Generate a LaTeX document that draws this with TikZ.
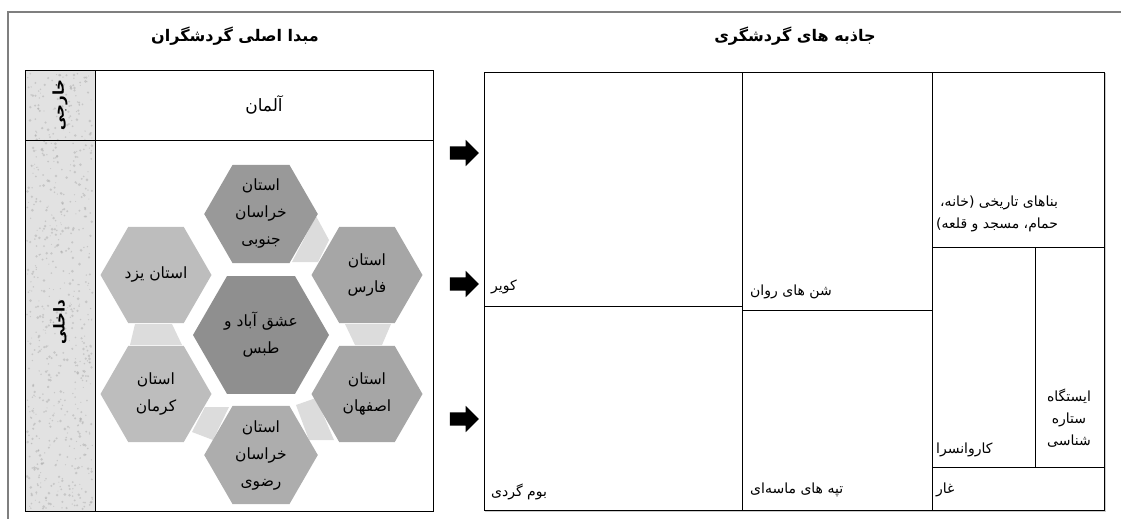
\documentclass[tikz,border=0pt]{standalone}
\usepackage{fontspec}
\usepackage{xcolor}
\usetikzlibrary{shapes,arrows,positioning}
\TeXXeTstate=1
\newfontfamily\arabicfont[Script=Arabic]{DejaVu Sans}
\newcommand{\fa}[1]{\beginR #1\endR}
\definecolor{hexcentre}{HTML}{8F8F8F}
\definecolor{hextop}{HTML}{999999}
\definecolor{hexmid}{HTML}{A6A6A6}
\definecolor{hexlow}{HTML}{ADADAD}
\definecolor{hexlight}{HTML}{BDBDBD}
\definecolor{linkgray}{HTML}{DCDCDC}
\definecolor{framegray}{HTML}{7F7F7F}
\definecolor{stonegray}{HTML}{E2E2E2}

\begin{document}
\begin{tikzpicture}[x=1pt,y=-1pt,
    hex/.style={regular polygon, regular polygon sides=6, inner sep=0pt,
        minimum size=111pt, align=center,
        font=\arabicfont\fontsize{15.5}{27}\selectfont},
    cell/.style={anchor=west, inner sep=0pt, font=\arabicfont\fontsize{14}{22}\selectfont},
    title/.style={font=\arabicfont\bfseries\fontsize{16}{18}\selectfont},
    side/.style={rotate=90, font=\arabicfont\bfseries\fontsize{15}{16}\selectfont},
    blockarrow/.style={single arrow, fill=black, inner sep=6.5pt,
        minimum height=29pt, single arrow head extend=6.5pt}]
    \useasboundingbox (0,0) rectangle (1121,519);

    % Frame
    \draw[framegray, line width=1.5pt] (8,519) -- (8,12) -- (1121,12);

    % Titles
    \node[title] (origin) at (235,36) {\fa{مبدا اصلی گردشگران}};
    \node[title] (attract) at (795,36) {\fa{جاذبه های گردشگری}};

    % Left table, stone column
    \fill[stonegray] (25,70) rectangle (95,511);
    \pgfmathsetseed{42}
    \foreach \k in {1,...,700} {
        \fill[gray!70, opacity=0.45] (27+66*rnd,72+437*rnd) circle (0.5+1.0*rnd);
    }
    \draw[line width=1pt] (25,70) rectangle (433,511);
    \draw[line width=1pt] (95,70) -- (95,511);
    \draw[line width=1pt] (25,140) -- (433,140);
    \node[side] (foreign) at (60,105) {\fa{خارجی}};
    \node[side] (domestic) at (60,322) {\fa{داخلی}};
    \node[font=\arabicfont\fontsize{17}{20}\selectfont] (germany) at (264,105) {\fa{آلمان}};

    % Links between outer hexagons
    \fill[linkgray] (316,216) -- (329,240) -- (318,262) -- (292,262) -- cycle;
    \fill[linkgray] (345,324) -- (391,324) -- (382,345) -- (355,345) -- cycle;
    \fill[linkgray] (296,405) -- (316,398) -- (334,440) -- (309,440) -- cycle;
    \fill[linkgray] (205,407) -- (229,407) -- (213,440) -- (192,432) -- cycle;
    \fill[linkgray] (135,324) -- (172,324) -- (182,345) -- (130,345) -- cycle;

    % Hexagons
    \node[hex, fill=hexcentre, minimum size=136pt] (tabas) at (261,335) {\fa{عشق آباد و}\\\fa{طبس}};
    \node[hex, fill=hextop] (southkh) at (261,214) {\fa{استان}\\\fa{خراسان}\\\fa{جنوبی}};
    \node[hex, fill=hexmid] (fars) at (367,275) {\fa{استان}\\\fa{فارس}};
    \node[hex, fill=hexmid] (isfahan) at (367,394) {\fa{استان}\\\fa{اصفهان}};
    \node[hex, fill=hexlow] (razavi) at (261,455) {\fa{استان}\\\fa{خراسان}\\\fa{رضوی}};
    \node[hex, fill=hexlight] (kerman) at (156,394) {\fa{استان}\\\fa{کرمان}};
    \node[hex, fill=hexlight] (yazd) at (156,275) {\fa{استان یزد}};

    % Arrows
    \node[blockarrow] (arr1) at (461,153) {};
    \node[blockarrow] (arr2) at (461,284) {};
    \node[blockarrow] (arr3) at (461,419) {};

    % Right table
    \draw[gray!40, line width=1.5pt] (1105.5,73) -- (1105.5,511.5) -- (485,511.5);
    \draw[line width=1pt] (484,72) rectangle (1104,510);
    \draw[line width=1pt] (742,72) -- (742,510);
    \draw[line width=1pt] (932,72) -- (932,510);
    \draw[line width=1pt] (484,306) -- (742,306);
    \draw[line width=1pt] (742,310) -- (932,310);
    \draw[line width=1pt] (932,247) -- (1104,247);
    \draw[line width=1pt] (932,467) -- (1104,467);
    \draw[line width=1pt] (1035,247) -- (1035,467);

    % Cell labels
    \node[cell] (desert) at (491,287) {\fa{کویر}};
    \node[cell] (dunes) at (750,292) {\fa{شن های روان}};
    \node[cell] (ecolodge) at (491,492) {\fa{بوم گردی}};
    \node[cell] (hills) at (750,490) {\fa{تپه های ماسه‌ای}};
    \node[cell, align=right] (historic) at (936,214) {\fa{بناهای تاریخی (خانه،}\\\fa{حمام، مسجد و قلعه)}};
    \node[cell] (caravan) at (936,450) {\fa{کاروانسرا}};
    \node[cell] (cave) at (936,490) {\fa{غار}};
    \node[cell, anchor=center, align=center] (observatory) at (1069,418) {\fa{ایستگاه}\\\fa{ستاره}\\\fa{شناسی}};
\end{tikzpicture}
\end{document}
